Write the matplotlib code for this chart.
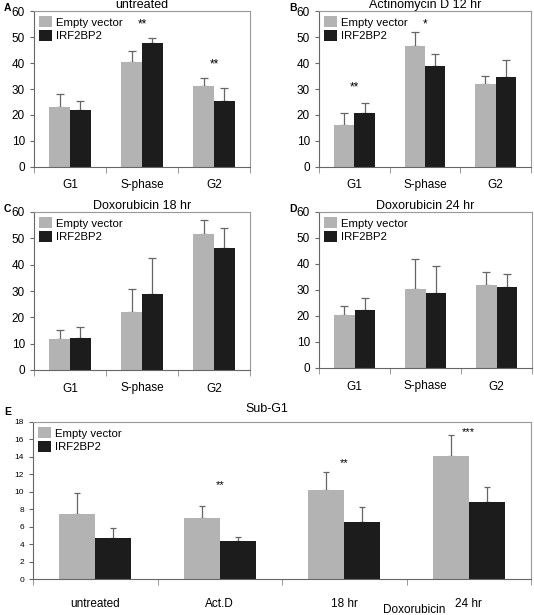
import matplotlib
matplotlib.use("Agg")
import matplotlib.pyplot as plt
from matplotlib.patches import Patch
import numpy as np

plt.rcParams['font.family'] = ['Liberation Sans', 'DejaVu Sans']

# cell cycle panels
phases = ["G1", "S-phase", "G2"]
titles = ["untreated", "Actinomycin D 12 hr", "Doxorubicin 18 hr", "Doxorubicin 24 hr"]
letters = ["A", "B", "C", "D"]
empty_vals = [[23, 40.5, 31], [16, 46.7, 32], [11.7, 22.2, 51.8], [20.2, 30.3, 31.8]]
empty_errtop = [[28, 44.5, 34.3], [20.7, 52, 35], [15.3, 30.8, 57], [23.8, 41.8, 36.8]]
irf_vals = [[22, 47.8, 25.5], [20.7, 39, 34.7], [12, 29, 46.5], [22.2, 29, 31]]
irf_errtop = [[25.5, 49.8, 30.3], [24.8, 43.5, 41.2], [16.3, 42.5, 53.8], [26.8, 39.2, 36.3]]
stars = [[(1, 55, "**"), (2, 39.5, "**")], [(0, 30.5, "**"), (1, 55, "*")], [], []]

# sub-G1 panel
subg1_cats = ["untreated", "Act.D", "18 hr", "24 hr"]
subg1_empty = [7.5, 7.05, 10.2, 14.1]
subg1_empty_err = [9.9, 8.4, 12.3, 16.5]
subg1_irf = [4.7, 4.3, 6.5, 8.85]
subg1_irf_err = [5.8, 4.85, 8.3, 10.6]
subg1_stars = [(1, 10.8, "**"), (2, 13.3, "**"), (3, 16.9, "***")]

GRAY = "#b3b3b3"
DARK = "#1c1c1c"
ERR = "#666666"
W, H = 534, 615
fig = plt.figure(figsize=(W / 100, H / 100), dpi=100)


def px_axes(left, top, right, bottom):
    return fig.add_axes([left / W, 1 - bottom / H, (right - left) / W, (bottom - top) / H])


def draw_bars(ax, cats, ev, ee, iv, ie, w=0.29, capsize=3):
    x = np.arange(len(cats))
    ax.bar(x - w / 2, ev, w, color=GRAY, zorder=2)
    ax.bar(x + w / 2, iv, w, color=DARK, zorder=2)
    ax.errorbar(x - w / 2, ev, yerr=[np.zeros(len(ev)), np.array(ee) - np.array(ev)],
                fmt="none", ecolor=ERR, elinewidth=0.9, capsize=capsize, capthick=0.9, zorder=1)
    ax.errorbar(x + w / 2, iv, yerr=[np.zeros(len(iv)), np.array(ie) - np.array(iv)],
                fmt="none", ecolor=ERR, elinewidth=0.9, capsize=capsize, capthick=0.9, zorder=1)
    ax.set_xlim(-0.5, len(cats) - 0.5)
    ax.set_xticks(x)
    ax.set_xticklabels(cats)
    ax.set_xticks(np.arange(-0.5, len(cats)), minor=True)
    ax.tick_params(axis="x", which="major", length=0, pad=9)
    ax.tick_params(axis="x", which="minor", length=4, color="#888888", direction="out")
    for s in ["top", "right"]:
        ax.spines[s].set_color("#999999")
        ax.spines[s].set_linewidth(0.8)
    for s in ["left", "bottom"]:
        ax.spines[s].set_color("#666666")
        ax.spines[s].set_linewidth(0.8)
    ax.tick_params(axis="y", length=3, color="#666666")


def add_legend(ax, fs):
    handles = [Patch(facecolor=GRAY, label="Empty vector"), Patch(facecolor=DARK, label="IRF2BP2")]
    ax.legend(handles=handles, loc="upper left", frameon=False, fontsize=fs,
              handlelength=1.15, handleheight=1.15, handletextpad=0.3, labelspacing=0.2,
              borderaxespad=0.2, borderpad=0.25)


boxes = [(34, 11, 250, 167), (319, 11, 531, 167), (34, 212, 250, 370), (319, 212, 532, 368)]
for k in range(4):
    ax = px_axes(*boxes[k])
    draw_bars(ax, phases, empty_vals[k], empty_errtop[k], irf_vals[k], irf_errtop[k])
    ax.set_ylim(0, 60)
    ax.set_yticks(range(0, 61, 10))
    ax.tick_params(labelsize=8.5)
    ax.set_title(titles[k], fontsize=9, pad=1)
    add_legend(ax, 8.2)
    for xi, yi, s in stars[k]:
        ax.text(xi, yi, s, ha="center", va="center", fontsize=8.5)
    l, t = boxes[k][0], boxes[k][1]
    fig.text((l - 30) / W, 1 - (t - 3) / H, letters[k], fontsize=7.5, fontweight="bold",
             ha="left", va="center")

axe = px_axes(33, 422, 531, 579)
draw_bars(axe, subg1_cats, subg1_empty, subg1_empty_err, subg1_irf, subg1_irf_err, capsize=2.5)
axe.set_ylim(0, 18)
axe.set_yticks(range(0, 19, 2))
axe.tick_params(axis="y", labelsize=6)
axe.tick_params(axis="x", labelsize=8.5, pad=14)
add_legend(axe, 8.2)
for xi, yi, s in subg1_stars:
    axe.text(xi, yi, s, ha="center", va="center", fontsize=8)
fig.text(267 / W, 1 - 409 / H, "Sub-G1", fontsize=9, ha="center", va="center")
fig.text(4 / W, 1 - 412 / H, "E", fontsize=7.5, fontweight="bold", ha="left", va="center")
fig.text(414 / W, 1 - 610 / H, "Doxorubicin", fontsize=8.5, ha="center", va="center")

fig.savefig("out.png", dpi=100)
